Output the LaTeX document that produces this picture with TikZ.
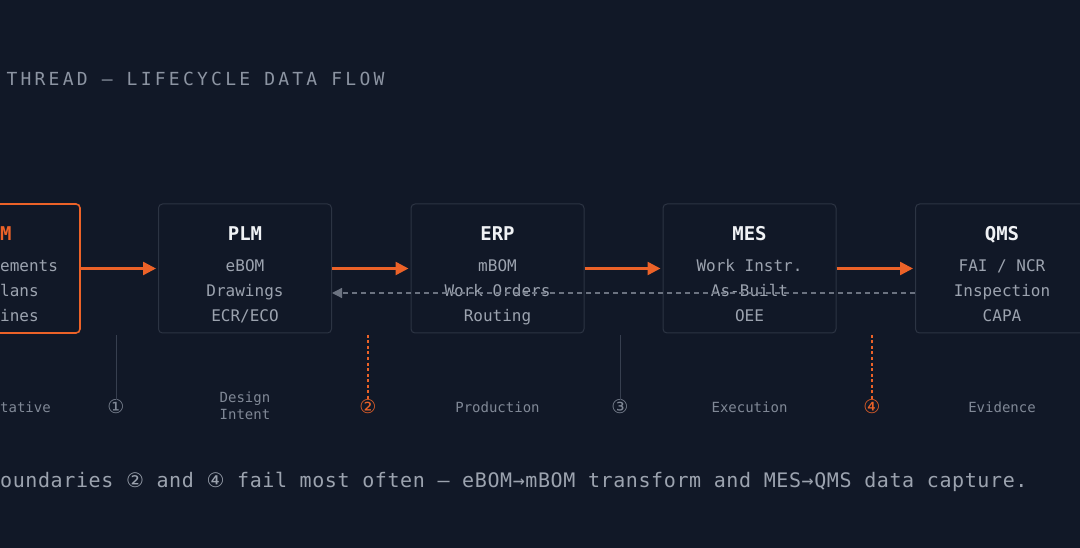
\documentclass[tikz,border=0pt]{standalone}
\usepackage{fontspec}
\setmonofont{DejaVu Sans Mono}
\newfontfamily\titlefont[LetterSpace=18]{DejaVu Sans Mono}
\newfontfamily\notefont[LetterSpace=3]{DejaVu Sans Mono}
\newfontfamily\circfont{DejaVu Sans}
\usepackage{xcolor}
\usetikzlibrary{arrows.meta}

\definecolor{bgnavy}{RGB}{17,24,39}
\definecolor{boxline}{RGB}{44,52,67}
\definecolor{hotorange}{RGB}{236,98,40}
\definecolor{headwhite}{RGB}{240,242,245}
\definecolor{itemgray}{RGB}{156,163,175}
\definecolor{titlegray}{RGB}{140,148,162}
\definecolor{stagegray}{RGB}{128,136,150}
\definecolor{gateline}{RGB}{55,63,79}
\definecolor{backgray}{RGB}{107,114,128}

\begin{document}
\begin{tikzpicture}[x=1pt,y=-1pt,
    box/.style={draw=boxline,line width=1pt,rounded corners=4pt,fill=bgnavy,
      minimum width=173pt,minimum height=129pt,inner sep=0pt},
    hot/.style={box,draw=hotorange,line width=1.6pt},
    head/.style={anchor=base,text=headwhite,font=\ttfamily\bfseries\fontsize{19}{19}\selectfont},
    item/.style={anchor=base,text=itemgray,font=\ttfamily\fontsize{16}{16}\selectfont},
    stage/.style={anchor=base,text=stagegray,font=\ttfamily\fontsize{14}{14}\selectfont},
    circ/.style={inner sep=0pt,text=stagegray,font=\circfont\fontsize{19}{19}\selectfont},
    flow/.style={draw=hotorange,line width=2.4pt,shorten >=2pt,
      -{Triangle[length=13pt,width=13pt]}},
    back/.style={draw=backgray,line width=1.2pt,dash pattern=on 5pt off 4pt,
      -{Triangle[length=10pt,width=10pt]}},
    gate/.style={draw=gateline,line width=1pt},
    hotgate/.style={draw=hotorange,line width=1.6pt,dash pattern=on 3pt off 2.5pt}]

  % canvas
  \fill[bgnavy] (0,0) rectangle (1080,548);
  \useasboundingbox (0,0) rectangle (1080,548);
  \clip (0,0) rectangle (1080,548);

  % title
  \node[anchor=base west,text=titlegray,font=\titlefont\fontsize{18}{18}\selectfont]
    (title) at (3,86) {THREAD — LIFECYCLE DATA FLOW};

  %------------------
  % systems
  %------------------
  \node[hot] (req) at (-6.5,268.5) {};
  \node[box] (plm) at (245,268.5) {};
  \node[box] (erp) at (497.5,268.5) {};
  \node[box] (mes) at (749.5,268.5) {};
  \node[box] (qms) at (1002,268.5) {};

  \node[head,anchor=base west,text=hotorange,inner xsep=0pt] (reqhead) at (0,241) {M};
  \node[item,anchor=base west,inner xsep=0pt] (req1) at (0,272) {ements};
  \node[item,anchor=base west,inner xsep=0pt] (req2) at (0,297) {lans};
  \node[item,anchor=base west,inner xsep=0pt] (req3) at (0,322) {ines};

  \node[head] (plmhead) at (245,241) {PLM};
  \node[item] (plm1) at (245,272) {eBOM};
  \node[item] (plm2) at (245,297) {Drawings};
  \node[item] (plm3) at (245,322) {ECR/ECO};

  \node[head] (erphead) at (497.5,241) {ERP};
  \node[item] (erp1) at (497.5,272) {mBOM};
  \node[item] (erp2) at (497.5,297) {Work Orders};
  \node[item] (erp3) at (497.5,322) {Routing};

  \node[head] (meshead) at (749.5,241) {MES};
  \node[item] (mes1) at (749.5,272) {Work Instr.};
  \node[item] (mes2) at (749.5,297) {As-Built};
  \node[item] (mes3) at (749.5,322) {OEE};

  \node[head] (qmshead) at (1002,241) {QMS};
  \node[item] (qms1) at (1002,272) {FAI / NCR};
  \node[item] (qms2) at (1002,297) {Inspection};
  \node[item] (qms3) at (1002,322) {CAPA};

  %------------------
  % data flow
  %------------------
  \draw[flow] (req.east) -- (plm.west);
  \draw[flow] (plm.east) -- (erp.west);
  \draw[flow] (erp.east) -- (mes.west);
  \draw[flow] (mes.east) -- (qms.west);

  % feedback
  \draw[back] ([yshift=-24.5pt]qms.west) -- ([yshift=-24.5pt]plm.east);

  %------------------
  % boundaries
  %------------------
  \coordinate (g1) at (116,335);
  \coordinate (g2) at (368,335);
  \coordinate (g3) at (620,335);
  \coordinate (g4) at (872,335);
  \node[circ] (b1) at (116,407) {①};
  \node[circ,text=hotorange] (b2) at (368,407) {②};
  \node[circ] (b3) at (620,407) {③};
  \node[circ,text=hotorange] (b4) at (872,407) {④};
  \draw[gate] (g1) -- (b1.north);
  \draw[hotgate] (g2) -- (b2.north);
  \draw[gate] (g3) -- (b3.north);
  \draw[hotgate] (g4) -- (b4.north);

  % stages
  \node[stage,anchor=base west,inner xsep=0pt] (s0) at (0,412) {tative};
  \node[stage] (s1a) at (245,402) {Design};
  \node[stage] (s1b) at (245,419) {Intent};
  \node[stage] (s2) at (497.5,412) {Production};
  \node[stage] (s3) at (749.5,412) {Execution};
  \node[stage] (s4) at (1002,412) {Evidence};

  % note
  \node[anchor=base west,inner xsep=0pt,text=itemgray,font=\notefont\fontsize{20}{20}\selectfont]
    (note) at (0,487) {oundaries {\circfont ②} and {\circfont ④} fail most often — eBOM→mBOM transform and MES→QMS data capture.};
\end{tikzpicture}
\end{document}
